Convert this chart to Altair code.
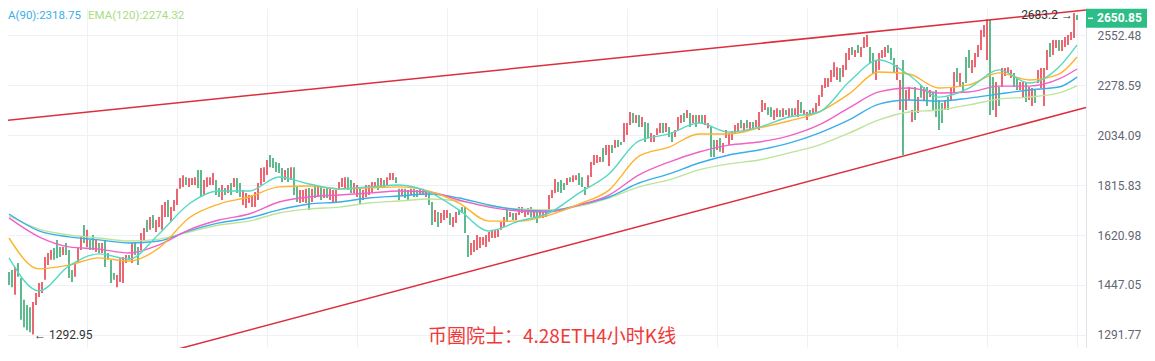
import altair as alt
import pandas as pd

# ---------------- candle data (4h ETH) ----------------
high_a = [1490,1497,1507,1521,1470,1399,1383,1376,1392,1421,1454,1457,1542,1556,1567,1574,1603,1577,1577,1592,
          1567,1497,1521,1574,1614,1658,1640,1603,1621,1603,1592,1592,1603,1556,1532,1487,1480,1538,1542,1549,
          1549,1592,1592,1577,1628,1647,1677,1689,1696,1677,1689,1735,1747,1755,1727,1755,1800]
low_a = [1447,1440,1415,1474,1337,1315,1306,1300,1292.95,1383,1408,1421,1464,1514,1532,1532,1538,1542,1549,1549,
         1470,1457,1474,1525,1567,1592,1577,1567,1567,1560,1556,1556,1507,1532,1454,1464,1440,1457,1454,1521,
         1532,1521,1549,1514,1567,1603,1632,1640,1647,1632,1651,1640,1689,1689,1670,1712,1735]
dir_a = "ggrgggggrr" "rrrrrgggrg" "ggrrrgrggr" "grggggrrrr" "grggrrgrgr" "rrrgrrr"

high_b = [1845,1857,1848,1845,1845,1848,1879,1879,1837,1848,1848,1866,1837,1804,1816,1804,1816,1824,1845,1845,
          1824,1795,1783,1775,1775,1787,1824,1887,1891,1922,1944,1931,1913,1909,1887,1879,1887,1891,1891,1808,
          1795,1795,1800,1804,1800,1816,1808,1808,1800,1808,1800,1795,1795,1828,1845,1848,1848,1837,1824,1816]
low_b = [1800,1808,1816,1808,1816,1816,1804,1767,1775,1808,1816,1816,1775,1767,1755,1775,1783,1775,1808,1783,
         1767,1735,1723,1743,1727,1727,1755,1816,1828,1858,1891,1887,1870,1866,1828,1837,1828,1837,1775,1747,
         1743,1747,1743,1716,1747,1763,1767,1755,1763,1763,1755,1747,1743,1795,1808,1804,1795,1783,1783,1767]
dir_b = "rrgrrrggrr" "rrggrgrgrg" "grrrrrrrrr" "gggggrgrgg" "rrrgrgrgrg" "rrrrrrggrr"

high_c = [1800,1795,1816,1816,1828,1828,1845,1845,1837,1848,1866,1866,1848,1800,1800,1800,1795,1800,1800,1795,
          1800,1800,1795,1783,1747,1716,1708,1704,1716,1716,1704,1689,1708,1716,1727,1727,1621,1592,1603,1621,
          1614,1614,1621,1632,1640,1640,1640,1670,1689,1716,1708,1704,1704,1727,1727,1716,1723,1727,1716,1708]
low_c = [1739,1755,1767,1775,1787,1804,1795,1808,1808,1816,1837,1837,1824,1755,1775,1763,1755,1775,1767,1767,
         1775,1775,1767,1735,1658,1670,1651,1666,1677,1685,1658,1651,1666,1696,1704,1628,1542,1549,1560,1567,
         1574,1585,1577,1596,1610,1610,1614,1640,1651,1670,1689,1677,1677,1696,1704,1689,1696,1689,1685,1666]
dir_c = "grrrrrgrgr" "rrggrggrgg" "rgrggrgrrr" "grrggggrrr" "rrrrrrrrrg" "rgrrrrrgrg"

high_d = [1716,1708,1716,1775,1795,1841,1828,1837,1824,1845,1848,1857,1857,1866,1848,1808,1857,1913,1944,1944,
          1935,1975,1988,1988,1988,2011,2011,2002,2090,2090,2143,2138,2129,2129,2119,2095,2090,2043,2034,2066,
          2090,2090,2090,2071,2048,2057,2119,2129,2138,2153,2138,2129,2129,2129,2129,2129,2090,2071,2011,2011]
low_d = [1685,1685,1689,1716,1763,1783,1787,1783,1795,1816,1828,1828,1837,1816,1808,1775,1808,1849,1900,1909,
         1913,1913,1944,1896,1953,1975,1980,1988,2002,2034,2081,2090,2090,2071,2071,2002,2020,2002,2002,2034,
         2043,2043,2048,2025,2002,2025,2057,2090,2095,2114,2071,2090,2071,2090,2090,2081,2066,1935,1935,1966]
dir_d = "rrrrrrgggr" "grrgggrrrr" "rgrrgrggrr" "rgrgrggrrr" "rgrggrrrgr" "grgrgrrggr"

high_e = [2020,1997,2057,2043,2048,2081,2090,2105,2090,2105,2095,2095,2105,2143,2202,2187,2167,2167,2153,2162,
          2153,2162,2153,2162,2162,2162,2202,2192,2153,2143,2153,2162,2187,2228,2279,2315,2315,2358,2400,2373,
          2368,2385,2450,2478,2484,2467,2495,2484,2541,2553,2484,2450,2412,2450,2467,2484,2495,2478,2423,2385]
low_e = [1958,1953,2020,1988,2011,2043,2048,2066,2057,2066,2057,2057,2071,2057,2143,2153,2129,2119,2105,2119,
         2119,2119,2129,2119,2119,2129,2119,2138,2129,2105,2129,2138,2143,2172,2218,2263,2268,2294,2320,2305,
         2294,2320,2358,2412,2439,2428,2450,2428,2478,2484,2395,2341,2305,2358,2423,2428,2450,2412,2341,2305]
dir_e = "grrrrrrgrg" "rgrrrrggrr" "grgrgrrgrr" "grrrrrrrrr" "grrrgrgrrr" "ggrrrrgggr"

high_f = [2305,2412,2253,2268,2153,2268,2218,2279,2268,2268,2253,2243,2253,2202,2187,2202,2218,2268,2347,2368,
          2341,2294,2428,2467,2412,2450,2495,2582,2611,2646,2641,2320,2294,2268,2368,2368,2373,2358,2341,2320,
          2294,2294,2289,2268,2263,2253,2358,2368,2368,2467,2506,2524,2524,2524,2524,2541,2553,2570,2683.2,2671]
low_f = [2153,1944,2153,2202,2095,2105,2138,2213,2202,2172,2218,2153,2119,2057,2090,2153,2153,2202,2243,2294,
         2268,2243,2289,2368,2341,2373,2428,2467,2541,2412,2129,2153,2119,2172,2268,2326,2341,2315,2268,2253,
         2253,2218,2192,2202,2172,2187,2289,2263,2172,2358,2428,2439,2478,2461,2461,2484,2495,2524,2535,2641]
dir_f = "rgrrrgrgrg" "rggggrgrrg" "rgggrrrrrr" "ggrgrrrrgg" "rrgrrgrrrr" "grrgrrrrrg"

# ---------------- moving averages (read at sampled candles) ----------------
ma_idx = [0,10,20,30,40,50,60,70,80,90,100,110,120,130,140,150,160,170,180,190,
          200,210,220,230,240,250,260,270,280,290,300,310,320,330,340,350,356]
ma_fast = [1539,1428,1511,1553,1535,1625,1739,1791,1791,1849,1820,1800,1808,1816,1787,1716,1636,1673,1704,1783,
           1862,2007,2039,2090,2048,2071,2119,2143,2294,2412,2331,2217,2263,2358,2289,2374,2495]
ma_orange = [1610,1501,1514,1539,1528,1574,1685,1739,1767,1808,1812,1800,1804,1808,1791,1743,1673,1673,1696,1739,
             1795,1939,1979,2039,2039,2067,2100,2143,2233,2347,2336,2263,2279,2342,2305,2336,2428]
ma_pink = [1685,1614,1578,1570,1556,1585,1640,1677,1700,1747,1767,1775,1783,1791,1787,1755,1727,1712,1708,1735,
           1775,1858,1913,1957,1988,2002,2030,2081,2163,2243,2263,2238,2243,2273,2273,2310,2363]
ma_ema90 = [1700,1636,1614,1603,1592,1599,1636,1666,1685,1716,1739,1747,1763,1771,1779,1763,1735,1716,1712,1735,
            1767,1824,1862,1909,1944,1966,1997,2043,2105,2182,2202,2197,2212,2233,2253,2268,2320]
ma_ema120 = [1693,1643,1621,1610,1599,1606,1632,1658,1673,1704,1720,1727,1743,1751,1759,1751,1731,1720,1716,1731,
             1763,1808,1837,1879,1905,1922,1953,1988,2043,2105,2143,2153,2178,2207,2217,2238,2274]

# trend lines (candle index, price)
trend_name = ["upper", "upper", "lower", "lower"]
trend_i = [-3, 359, -3, 359]
trend_p = [2099.8, 2701.5, 1123.7, 2165.2]

y_ticks = [1291.77, 1447.05, 1620.98, 1815.83, 2034.09, 2278.59, 2552.48]
last_price = 2650.85
low_mark = (8, 1292.95)
high_mark = (355, 2683.2)
ema90_txt = "A(90):2318.75"
ema120_txt = "EMA(120):2274.32"
title_txt = "币圈院士：4.28ETH4小时K线"

# ---------------- build tables ----------------
highs = high_a + high_b + high_c + high_d + high_e + high_f
lows = low_a + low_b + low_c + low_d + low_e + low_f
dirs = list(dir_a + dir_b + dir_c + dir_d + dir_e + dir_f)
candles = pd.DataFrame({"i": list(range(len(highs))), "high": highs, "low": lows, "dir": dirs})

ma_vals = [ma_ema120, ma_ema90, ma_pink, ma_orange, ma_fast]
ma_colors = ["#bde49b", "#3aaeea", "#ef63c6", "#fdb32b", "#55d9c0"]

trend_df = pd.DataFrame({"line": trend_name, "i": trend_i, "p": trend_p})

W, H = 1078, 340
RED = "#e8414e"
GREEN = "#36a970"
GRID = "#eef1f6"

xs = alt.Scale(domain=[-1 / 3, 359], nice=False, zero=False)
ys = alt.Scale(type="log", domain=[1254.2, 2713.9], nice=False, zero=False)

x_axis = alt.Axis(values=[26 + 30 * k for k in range(12)], labels=False, ticks=False,
                  domain=False, grid=True, gridColor=GRID, gridWidth=1, title=None)
y_axis = alt.Axis(orient="right", values=y_ticks, format=".2f", grid=True, gridColor=GRID,
                  ticks=False, tickSize=0, labelPadding=11, domain=True, domainColor="#dfe2e8",
                  labelFont="Roboto", labelFontSize=12, labelColor="#626673", title=None)


def X(field):
    return alt.X(field, type="quantitative", scale=xs, axis=x_axis)


def Y(field):
    return alt.Y(field, type="quantitative", scale=ys, axis=y_axis)


candle_layer = alt.Chart(candles).mark_rule(strokeWidth=1.6).encode(
    x=X("i"), y=Y("low"), y2="high:Q",
    color=alt.Color("dir:N", scale=alt.Scale(domain=["r", "g"], range=[RED, GREEN]), legend=None),
)

ma_layers = []
for vals, col in zip(ma_vals, ma_colors):
    df = pd.DataFrame({"i": ma_idx, "v": vals})
    ma_layers.append(
        alt.Chart(df).mark_line(strokeWidth=1.4, interpolate="monotone", color=col).encode(
            x=X("i"), y=Y("v"))
    )

trend_layer = alt.Chart(trend_df).mark_line(strokeWidth=1.5, color="#dc2e3c", clip=True).encode(
    x=X("i"), y=Y("p"), detail="line:N",
)

low_df = pd.DataFrame({"i": [low_mark[0]], "p": [low_mark[1]], "t": ["\u2190 " + f"{low_mark[1]:.2f}"]})
low_text = alt.Chart(low_df).mark_text(align="left", baseline="middle", dx=1, fontSize=12,
                                       font="Roboto", color="#333333").encode(
    x=X("i"), y=Y("p"), text="t:N")

high_df = pd.DataFrame({"i": [high_mark[0]], "p": [high_mark[1]], "t": [f"{high_mark[1]} \u2192"]})
high_text = alt.Chart(high_df).mark_text(align="right", baseline="middle", dx=-1, dy=2, fontSize=12,
                                         font="Roboto", color="#333333").encode(
    x=X("i"), y=Y("p"), text="t:N")

last_df = pd.DataFrame({"p": [last_price], "t": [f"{last_price:.2f}"]})
last_box = alt.Chart(last_df).mark_rule(strokeWidth=19, color="#2dbd86", strokeCap="butt").encode(
    x=alt.value(W), x2=alt.value(W + 70), y=Y("p"))
last_tick = alt.Chart(last_df).mark_rule(strokeWidth=1.5, color="white").encode(
    x=alt.value(W + 2), x2=alt.value(W + 7), y=Y("p"))
last_text = alt.Chart(last_df).mark_text(align="left", baseline="middle", fontSize=12,
                                         fontWeight="bold", font="Roboto", color="white").encode(
    x=alt.value(W + 11), y=Y("p"), text="t:N")

leg1 = alt.Chart(pd.DataFrame({"t": [ema90_txt]})).mark_text(
    align="left", baseline="middle", fontSize=11.5, font="Roboto", color="#3aaeea").encode(
    x=alt.value(0), y=alt.value(8), text="t:N")
leg2 = alt.Chart(pd.DataFrame({"t": [ema120_txt]})).mark_text(
    align="left", baseline="middle", fontSize=11.5, font="Roboto", color="#a9dc82").encode(
    x=alt.value(80), y=alt.value(8), text="t:N")

title_mark = alt.Chart(pd.DataFrame({"t": [title_txt]})).mark_text(
    align="left", baseline="middle", fontSize=19, font="Noto Sans CJK SC", color="#f03a3a").encode(
    x=alt.value(420), y=alt.value(329), text="t:N")

chart = alt.layer(
    candle_layer, *ma_layers, trend_layer, low_text, high_text,
    last_box, last_tick, last_text, leg1, leg2, title_mark,
).properties(
    width=W, height=H,
    autosize=alt.AutoSizeParams(type="none"),
    padding={"left": 0, "top": 0, "right": 61, "bottom": 0},
    background="white",
).configure_view(stroke=None)

chart.save("out.html", embed_options={"renderer": "svg", "actions": False})
